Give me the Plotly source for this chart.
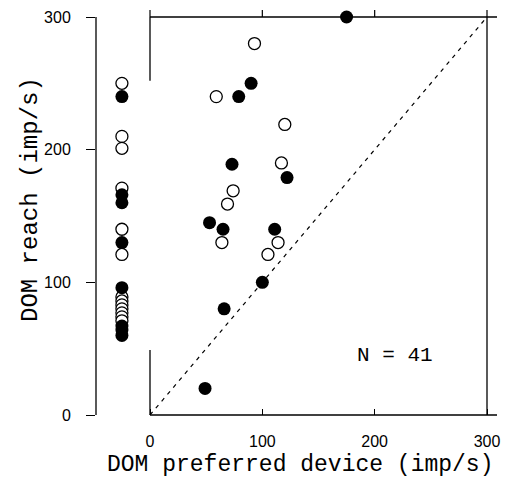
import plotly.graph_objects as go

# ---- data (imp/s) ----
# cells tested with the preferred device
open_x = [93, 59, 120, 117, 74, 69, 64, 114, 105]
open_y = [280, 240, 219, 190, 169, 159, 130, 130, 121]
filled_x = [175, 90, 79, 73, 122, 53, 65, 111, 100, 66, 49]
filled_y = [300, 250, 240, 189, 179, 145, 140, 140, 100, 80, 20]
# cells without a preferred-device value (left column)
left_open_y = [250, 210, 201, 171, 140, 121, 89, 86, 83, 80, 77, 74, 71]
left_filled_y = [240, 166, 160, 130, 96, 67, 64, 60]
diag = [0, 300]
x_ticks = [0, 100, 200, 300]
y_ticks = [0, 100, 200, 300]
n_label = "N = 41"

# page offset introduced by the default body margin of the html page
OFF = 8
W, H = 510 - OFF, 482 - OFF
# plot area in page pixels
PL, PR, PT, PB = 96, 497, 17, 415
L, T = PL - OFF, PT - OFF
R, B = W - (PR - OFF), H - (PB - OFF)
pw = PR - PL
ph = PB - PT
px0 = 150          # page pixel of x = 0
px300 = 487        # page pixel of x = 300
scale = (px300 - px0) / 300.0
x_min = -(px0 - PL) / scale
x_max = (PR - px0) / scale
left_col_x = -25

mono = "Liberation Mono, Courier New, monospace"
sans = "Liberation Sans, Arial, sans-serif"

open_marker = dict(size=12, color="white", line=dict(color="black", width=1.3))
filled_marker = dict(size=13, color="black", line=dict(width=0))

fig = go.Figure()
fig.add_trace(go.Scatter(x=diag, y=diag, mode="lines",
                         line=dict(color="black", width=1.2, dash="4px,5px"),
                         hoverinfo="skip", showlegend=False))
fig.add_trace(go.Scatter(x=open_x, y=open_y, mode="markers", marker=open_marker,
                         cliponaxis=False, showlegend=False))
fig.add_trace(go.Scatter(x=filled_x, y=filled_y, mode="markers", marker=filled_marker,
                         cliponaxis=False, showlegend=False))
fig.add_trace(go.Scatter(x=[left_col_x] * len(left_open_y), y=left_open_y, mode="markers",
                         marker=open_marker, cliponaxis=False, showlegend=False))
fig.add_trace(go.Scatter(x=[left_col_x] * len(left_filled_y), y=left_filled_y, mode="markers",
                         marker=filled_marker, cliponaxis=False, showlegend=False))

ln = dict(color="black", width=1.3)
shapes = [
    # separate left y axis line
    dict(type="line", xref="paper", yref="y", x0=0, x1=0, y0=0, y1=300, line=ln),
    # bottom, top and right sides of the box
    dict(type="line", xref="x", yref="paper", x0=0, x1=x_max, y0=0, y1=0, line=ln),
    dict(type="line", xref="x", yref="paper", x0=0, x1=x_max, y0=1, y1=1, line=ln),
    dict(type="line", xref="x", yref="y", x0=300, x1=300, y0=0, y1=300, line=ln),
    # broken left side of the box
    dict(type="line", xref="x", yref="y", x0=0, x1=0, y0=252, y1=300, line=ln),
    dict(type="line", xref="x", yref="y", x0=0, x1=0, y0=0, y1=49, line=ln),
]
# top ticks pointing outward
for t in x_ticks:
    shapes.append(dict(type="line", xref="x", yref="paper", x0=t, x1=t,
                       y0=1, y1=1 + 7 / ph, line=dict(color="black", width=1.2)))

fig.update_layout(
    width=W, height=H,
    margin=dict(l=L, r=R, t=T, b=B, autoexpand=False),
    paper_bgcolor="white", plot_bgcolor="white",
    showlegend=False,
    xaxis=dict(range=[x_min, x_max], automargin=False, showline=False, showgrid=False,
               zeroline=False, tickvals=x_ticks, ticks="inside", ticklen=6,
               tickcolor="black", tickwidth=1.2,
               tickfont=dict(family=sans, size=16, color="black"), ticklabelstandoff=15),
    yaxis=dict(range=[0, 300], automargin=False, showline=False, showgrid=False,
               zeroline=False,
               tickvals=y_ticks, ticks="outside", ticklen=9, tickcolor="black", tickwidth=1.2,
               tickfont=dict(family=sans, size=16, color="black"), ticklabelstandoff=12),
    shapes=shapes,
    annotations=[
        dict(text=n_label, xref="x", yref="y", x=218, y=45, showarrow=False,
             font=dict(family=mono, size=21, color="black")),
        dict(text="DOM preferred device (imp/s)", xref="paper", yref="paper",
             x=(300 - PL) / pw, y=-(465 - PB) / ph, showarrow=False,
             xanchor="center", yanchor="middle",
             font=dict(family=mono, size=23, color="black")),
        dict(text="DOM reach (imp/s)", xref="paper", yref="paper",
             x=(30 - PL) / pw, y=(PB - 200) / ph, showarrow=False, textangle=-90,
             xanchor="center", yanchor="middle",
             font=dict(family=mono, size=24, color="black")),
    ],
)

fig.write_html("out.html")
